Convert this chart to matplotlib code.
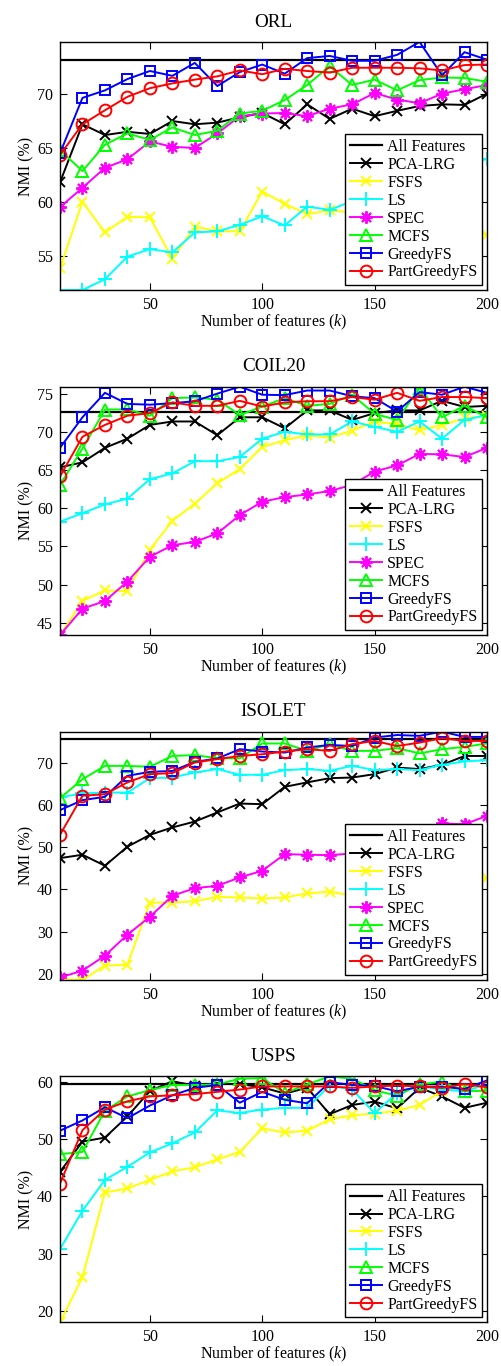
import numpy as np
import matplotlib
matplotlib.use('Agg')
import matplotlib.pyplot as plt

# Font setup (Times-like look of the original MATLAB figure)
plt.rcParams['font.family'] = ['Liberation Serif', 'DejaVu Serif']
plt.rcParams['mathtext.fontset'] = 'custom'
plt.rcParams['mathtext.rm'] = 'Liberation Serif'
plt.rcParams['mathtext.it'] = 'Liberation Serif:italic'
plt.rcParams['font.size'] = 11.5

# Number of selected features
ks = [10, 20, 30, 40, 50, 60, 70, 80, 90, 100, 110, 120, 130, 140, 150, 160, 170, 180, 190, 200]

# ORL
orl_all = 73.15
orl_pca = [61.8, 67.2, 66.2, 66.5, 66.3, 67.5, 67.2, 67.35, 67.85, 68.25, 67.2, 69.05, 67.7, 68.65, 67.95, 68.45, 68.9, 69.05, 69.0, 70.05]
orl_fsfs = [53.8, 60.0, 57.15, 58.6, 58.55, 54.7, 57.7, 57.25, 57.25, 60.95, 59.8, 58.85, 59.2, 59.0, 58.6, 58.2, 57.8, 58.0, 57.6, 56.9]
orl_ls = [51.8, 51.8, 52.8, 54.9, 55.6, 55.3, 57.15, 57.25, 57.85, 58.65, 57.8, 59.55, 59.25, 60.05, 60.6, 61.3, 61.9, 62.6, 63.3, 64.0]
orl_spec = [59.5, 61.3, 63.15, 63.95, 65.6, 65.1, 65.0, 66.35, 67.95, 68.2, 68.25, 67.95, 68.65, 69.05, 70.1, 69.5, 69.15, 70.05, 70.45, 70.85]
orl_mcfs = [64.8, 62.85, 65.3, 66.35, 65.75, 66.9, 66.2, 66.6, 68.2, 68.45, 69.45, 70.85, 72.6, 70.85, 71.35, 70.35, 71.3, 71.55, 71.5, 71.15]
orl_greedy = [64.5, 69.65, 70.35, 71.4, 72.15, 71.7, 72.9, 70.75, 72.05, 72.75, 71.9, 73.35, 73.55, 73.1, 73.1, 73.65, 74.85, 71.75, 73.9, 73.2]
orl_part = [64.35, 67.2, 68.5, 69.75, 70.55, 71.0, 71.35, 71.65, 72.2, 71.85, 72.35, 72.15, 72.0, 72.45, 72.45, 72.45, 72.4, 72.2, 72.7, 72.75]

# COIL20
coil_all = 72.6
coil_pca = [65.35, 66.0, 67.9, 69.1, 70.9, 71.35, 71.35, 69.55, 71.9, 71.9, 70.45, 72.8, 72.8, 71.55, 72.45, 72.8, 72.8, 74.05, 73.25, 73.4]
coil_fsfs = [43.4, 47.85, 49.25, 49.15, 54.55, 58.35, 60.6, 63.25, 65.15, 68.0, 68.9, 69.55, 69.25, 70.15, 71.35, 71.0, 70.2, 70.9, 71.75, 72.1]
coil_ls = [58.25, 59.35, 60.5, 61.25, 63.8, 64.55, 66.15, 66.15, 66.7, 69.1, 70.0, 69.65, 69.65, 71.35, 70.65, 70.0, 71.35, 69.1, 71.55, 72.2]
coil_spec = [43.4, 46.85, 47.85, 50.4, 53.65, 55.15, 55.6, 56.7, 59.1, 60.85, 61.45, 61.8, 62.25, 63.05, 64.8, 65.6, 67.1, 67.05, 66.7, 67.9]
coil_mcfs = [63.05, 67.8, 72.9, 72.95, 72.1, 74.4, 74.5, 74.2, 72.2, 73.3, 74.4, 73.4, 73.65, 74.85, 72.35, 71.55, 75.75, 71.9, 73.4, 71.9]
coil_greedy = [67.9, 71.9, 75.1, 73.65, 73.55, 73.75, 74.0, 75.0, 75.9, 74.85, 74.8, 75.4, 75.4, 74.65, 74.4, 72.65, 75.2, 74.85, 75.9, 75.1]
coil_part = [64.15, 69.35, 70.9, 72.1, 72.45, 73.85, 73.4, 73.4, 74.05, 73.3, 73.85, 74.0, 74.0, 74.55, 74.2, 75.1, 74.05, 74.55, 74.55, 74.4]

# ISOLET
iso_all = 75.5
iso_pca = [47.4, 48.2, 45.6, 50.1, 52.9, 54.65, 56.05, 58.2, 60.3, 60.15, 64.25, 65.3, 66.3, 66.45, 67.25, 68.8, 68.45, 69.45, 71.55, 71.55]
iso_fsfs = [18.8, 18.6, 22.0, 22.2, 36.9, 36.9, 37.2, 38.25, 38.1, 37.85, 38.1, 39.05, 39.5, 38.5, 39.0, 39.8, 40.5, 41.2, 41.8, 42.8]
iso_ls = [61.75, 62.7, 62.9, 62.9, 66.3, 66.45, 67.65, 68.45, 67.1, 67.1, 68.2, 68.45, 68.05, 69.2, 68.2, 68.45, 68.2, 69.45, 70.25, 70.55]
iso_spec = [19.2, 20.8, 24.35, 29.3, 33.55, 38.5, 40.3, 40.85, 42.85, 44.4, 48.35, 48.2, 48.1, 48.5, 49.2, 50.3, 52.5, 55.6, 55.4, 57.4]
iso_mcfs = [61.55, 66.05, 69.2, 69.2, 69.0, 71.55, 71.75, 71.0, 71.0, 74.5, 74.5, 72.75, 74.35, 72.75, 72.75, 73.4, 72.15, 73.15, 73.7, 74.5]
iso_greedy = [58.75, 61.1, 61.9, 66.85, 67.8, 68.0, 70.15, 70.95, 73.15, 72.6, 72.35, 73.55, 74.15, 73.9, 75.9, 76.5, 76.3, 77.3, 76.05, 76.05]
iso_part = [52.9, 62.15, 62.5, 65.3, 67.25, 67.5, 70.0, 70.8, 71.55, 71.95, 72.6, 73.15, 72.75, 74.35, 75.1, 73.9, 74.7, 75.75, 75.1, 75.1]

# USPS (no SPEC result)
usps_all = 59.6
usps_pca = [44.3, 49.6, 50.3, 54.0, 58.45, 60.15, 59.4, 59.7, 59.65, 59.1, 58.0, 59.0, 54.4, 56.0, 56.6, 55.4, 59.0, 57.5, 55.5, 56.4]
usps_fsfs = [18.0, 25.9, 40.7, 41.4, 42.9, 44.4, 45.1, 46.5, 47.8, 51.9, 51.2, 51.5, 53.5, 54.2, 54.5, 55.0, 56.0, 58.5, 59.0, 59.4]
usps_ls = [30.8, 37.5, 42.9, 45.2, 47.7, 49.3, 51.2, 55.05, 54.6, 55.2, 55.5, 55.5, 59.4, 58.7, 54.6, 58.1, 59.3, 58.7, 58.4, 59.6]
usps_mcfs = [47.4, 47.8, 55.0, 57.5, 58.6, 59.5, 59.5, 59.6, 60.6, 60.7, 58.1, 59.6, 61.0, 60.6, 58.6, 57.6, 59.6, 60.1, 58.4, 58.5]
usps_greedy = [51.5, 53.3, 55.6, 53.7, 55.9, 57.7, 59.0, 59.5, 56.4, 58.3, 56.9, 56.3, 60.0, 59.5, 59.3, 58.4, 59.2, 59.2, 58.8, 60.3]
usps_part = [42.25, 51.6, 55.2, 56.65, 57.5, 57.7, 57.9, 58.3, 58.7, 59.25, 59.25, 59.25, 59.25, 59.0, 59.25, 59.4, 59.25, 59.0, 59.65, 59.1]

# Method styles: color, marker, markersize
styles = {
    'PCA-LRG': ('k', 'x', 7),
    'FSFS': ((1, 1, 0), 'x', 7),
    'LS': ((0, 1, 1), '+', 10),
    'SPEC': ((1, 0, 1), (8, 2, 0), 9),   # MATLAB-like asterisk
    'MCFS': ((0, 1, 0), '^', 8),
    'GreedyFS': ((0, 0, 1), 's', 7),
    'PartGreedyFS': ((1, 0, 0), 'o', 8.5),
}

# Axes boxes in figure fractions: [left, bottom, width, height]
boxes = [
    [0.1195, 0.7877, 0.8506, 0.1816],
    [0.1195, 0.5351, 0.8506, 0.1818],
    [0.1195, 0.2826, 0.8506, 0.1818],
    [0.1195, 0.0320, 0.8506, 0.1800],
]

panels = [
    ('ORL', orl_all, [('PCA-LRG', orl_pca), ('FSFS', orl_fsfs), ('LS', orl_ls), ('SPEC', orl_spec),
                      ('MCFS', orl_mcfs), ('GreedyFS', orl_greedy), ('PartGreedyFS', orl_part)], [55, 60, 65, 70]),
    ('COIL20', coil_all, [('PCA-LRG', coil_pca), ('FSFS', coil_fsfs), ('LS', coil_ls), ('SPEC', coil_spec),
                          ('MCFS', coil_mcfs), ('GreedyFS', coil_greedy), ('PartGreedyFS', coil_part)], [45, 50, 55, 60, 65, 70, 75]),
    ('ISOLET', iso_all, [('PCA-LRG', iso_pca), ('FSFS', iso_fsfs), ('LS', iso_ls), ('SPEC', iso_spec),
                         ('MCFS', iso_mcfs), ('GreedyFS', iso_greedy), ('PartGreedyFS', iso_part)], [20, 30, 40, 50, 60, 70]),
    ('USPS', usps_all, [('PCA-LRG', usps_pca), ('FSFS', usps_fsfs), ('LS', usps_ls),
                        ('MCFS', usps_mcfs), ('GreedyFS', usps_greedy), ('PartGreedyFS', usps_part)], [20, 30, 40, 50, 60]),
]


def draw_panel(ax, title, all_val, series, yticks):
    ax.axhline(all_val, color='k', lw=1.6, label='All Features')
    for name, vals in series:
        color, marker, ms = styles[name]
        ax.plot(ks, vals, color=color, marker=marker, ms=ms, mfc='none',
                mew=1.4, lw=1.4, label=name)
    # tight limits like MATLAB "axis tight"
    allv = np.concatenate([np.array(v) for _, v in series] + [[all_val]])
    ax.set_xlim(10, 200)
    ax.set_ylim(allv.min(), allv.max())
    ax.set_xticks([50, 100, 150, 200])
    ax.set_yticks(yticks)
    ax.tick_params(direction='in', top=True, right=True, length=5, width=0.8, pad=5)
    for sp in ax.spines.values():
        sp.set_linewidth(1.0)
    ax.set_title(title, pad=11)
    ax.set_xlabel('Number of features ($k$)', labelpad=0)
    ax.set_ylabel('NMI (%)', labelpad=2)
    leg = ax.legend(loc='lower right', fancybox=False, framealpha=1, edgecolor='k',
                    handlelength=2.0, handletextpad=0.35, labelspacing=0.12,
                    borderpad=0.3, borderaxespad=0.3)
    leg.get_frame().set_linewidth(1.0)


fig = plt.figure(figsize=(5.02, 13.66), dpi=100)
for box, (title, all_val, series, yticks) in zip(boxes, panels):
    ax = fig.add_axes(box)
    draw_panel(ax, title, all_val, series, yticks)

fig.savefig('out.png', dpi=100)
